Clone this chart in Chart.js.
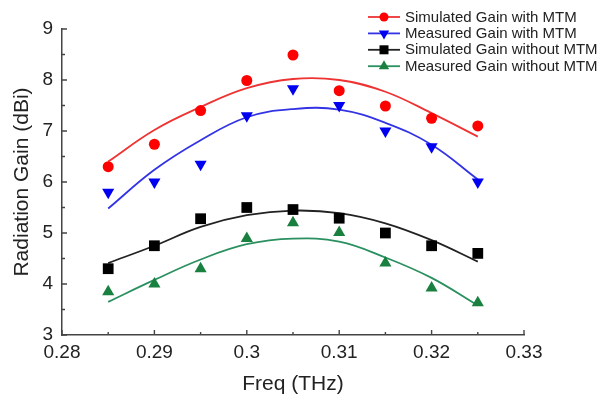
<!DOCTYPE html>
<html>
<head>
<meta charset="utf-8">
<script src="https://cdn.jsdelivr.net/npm/chart.js@4/dist/chart.umd.min.js"></script>
<style>
  html, body { margin: 0; padding: 0; background: #fff; }
  #wrap { width: 606px; height: 403px; position: relative; }
</style>
</head>
<body>
<div id="wrap"><canvas id="gainChart"></canvas></div>
<script>
// frequencies (THz)
const freq = [0.285, 0.29, 0.295, 0.3, 0.305, 0.31, 0.315, 0.32, 0.325];

// measured / simulated points (dBi)
const simWithMTM = [6.3, 6.74, 7.4, 7.99, 8.49, 7.79, 7.49, 7.25, 7.1];
const measWithMTM = [5.8, 6.0, 6.35, 7.3, 7.83, 7.5, 7.0, 6.69, 6.0];
const simWithoutMTM = [4.3, 4.75, 5.28, 5.5, 5.46, 5.29, 5.0, 4.75, 4.6];
const measWithoutMTM = [3.85, 4.0, 4.3, 4.89, 5.2, 5.01, 4.41, 3.92, 3.63];

// fitted curves
const fitSimWith = [6.4, 7.02, 7.47, 7.84, 8.02, 8.0, 7.77, 7.35, 6.89];
const fitMeasWith = [5.48, 6.24, 6.82, 7.27, 7.43, 7.42, 7.16, 6.73, 6.05];
const fitSimWithout = [4.41, 4.75, 5.12, 5.35, 5.44, 5.39, 5.19, 4.86, 4.44];
const fitMeasWithout = [3.65, 4.08, 4.48, 4.78, 4.89, 4.83, 4.52, 4.12, 3.58];

const xTicks = [0.28, 0.29, 0.3, 0.31, 0.32, 0.33];
const yTicks = [3, 4, 5, 6, 7, 8, 9];

const FONT = "'Liberation Sans', Arial, sans-serif";

function pts(ys) {
  return freq.map((f, i) => ({ x: f, y: ys[i] }));
}

const series = [
  { label: "Simulated Gain with MTM", data: simWithMTM, fit: fitSimWith, color: "#ff0000", line: "#ee3333", style: "circle", radius: 5.5, rot: 0 },
  { label: "Measured Gain with MTM", data: measWithMTM, fit: fitMeasWith, color: "#0000f0", line: "#3333e6", style: "triangle", radius: 7, rot: 180 },
  { label: "Simulated Gain without MTM", data: simWithoutMTM, fit: fitSimWithout, color: "#000000", line: "#222222", style: "rect", radius: 7.6, rot: 0 },
  { label: "Measured Gain without MTM", data: measWithoutMTM, fit: fitMeasWithout, color: "#1a8040", line: "#2a9060", style: "triangle", radius: 7, rot: 0 }
];

const datasets = [];
series.forEach(s => {
  datasets.push({
    label: s.label + " fit",
    data: pts(s.fit),
    borderColor: s.line,
    borderWidth: 1.8,
    pointRadius: 0,
    showLine: true,
    fill: false,
    tension: 0.4,
    order: 2
  });
});
series.forEach(s => {
  datasets.push({
    label: s.label,
    data: pts(s.data),
    showLine: false,
    pointStyle: s.style,
    pointRadius: s.radius,
    pointRotation: s.rot,
    pointBackgroundColor: s.color,
    pointBorderColor: s.color,
    pointBorderWidth: 0,
    order: 1
  });
});

// inward ticks, major and minor
const innerTicks = {
  id: "innerTicks",
  afterDraw(chart) {
    const { ctx, chartArea: a, scales: { x, y } } = chart;
    ctx.save();
    ctx.strokeStyle = "#444";
    ctx.lineWidth = 1.4;
    ctx.beginPath();
    for (let i = 0; i <= 10; i++) {
      const px = x.getPixelForValue(0.28 + i * 0.005);
      const len = i % 2 === 0 ? 5 : 3;
      ctx.moveTo(px, a.bottom);
      ctx.lineTo(px, a.bottom - len);
    }
    for (let i = 0; i <= 12; i++) {
      const py = y.getPixelForValue(3 + i * 0.5);
      const len = i % 2 === 0 ? 5 : 3;
      ctx.moveTo(a.left, py);
      ctx.lineTo(a.left + len, py);
    }
    ctx.stroke();
    ctx.restore();
  }
};

function marker(ctx, style, cx, cy, r, rot, color) {
  ctx.fillStyle = color;
  ctx.beginPath();
  if (style === "circle") {
    ctx.arc(cx, cy, r, 0, Math.PI * 2);
  } else if (style === "rect") {
    ctx.rect(cx - r, cy - r, 2 * r, 2 * r);
  } else {
    const d = rot === 180 ? -1 : 1;
    ctx.moveTo(cx, cy - d * r);
    ctx.lineTo(cx + r * 0.866, cy + d * r * 0.5);
    ctx.lineTo(cx - r * 0.866, cy + d * r * 0.5);
    ctx.closePath();
  }
  ctx.fill();
}

const sideLegend = {
  id: "sideLegend",
  afterDraw(chart) {
    const { ctx } = chart;
    ctx.save();
    ctx.font = "15px " + FONT;
    ctx.textBaseline = "middle";
    series.forEach((s, i) => {
      const yy = 17 + i * 16.4;
      ctx.strokeStyle = s.line;
      ctx.lineWidth = 1.8;
      ctx.beginPath();
      ctx.moveTo(368, yy);
      ctx.lineTo(400, yy);
      ctx.stroke();
      const r = s.style === "circle" ? 4.5 : (s.style === "rect" ? 4.5 : 6);
      marker(ctx, s.style, 384, yy, r, s.rot, s.color);
      ctx.fillStyle = "#222";
      ctx.fillText(s.label, 405, yy + 0.5);
    });
    ctx.restore();
  }
};

new Chart(document.getElementById("gainChart"), {
  type: "scatter",
  data: { datasets },
  options: {
    responsive: true,
    maintainAspectRatio: false,
    animation: false,
    layout: { padding: { left: 0, right: 82, top: 29, bottom: 0 } },
    plugins: {
      legend: { display: false },
      tooltip: { enabled: false }
    },
    scales: {
      x: {
        type: "linear",
        min: 0.28,
        max: 0.33,
        afterBuildTicks(scale) {
          scale.ticks = xTicks.map(v => ({ value: v }));
        },
        afterFit(scale) { scale.height = 68; },
        ticks: {
          padding: 6,
          color: "#222",
          font: { family: FONT, size: 19 },
          callback: v => String(parseFloat(v.toFixed(3)))
        },
        grid: { display: false, drawTicks: false },
        border: { display: true, color: "#444", width: 1.5 },
        title: {
          display: true,
          text: "Freq (THz)",
          color: "#222",
          font: { family: FONT, size: 21 },
          padding: { top: 0, bottom: 6 }
        }
      },
      y: {
        min: 3,
        max: 9,
        afterBuildTicks(scale) {
          scale.ticks = yTicks.map(v => ({ value: v }));
        },
        afterFit(scale) { scale.width = 62; },
        ticks: {
          padding: 9,
          color: "#222",
          font: { family: FONT, size: 19 }
        },
        grid: { display: false, drawTicks: false },
        border: { display: true, color: "#444", width: 1.5 },
        title: {
          display: true,
          text: "Radiation Gain (dBi)",
          color: "#222",
          font: { family: FONT, size: 21 },
          padding: { top: 10, bottom: 0 }
        }
      }
    }
  },
  plugins: [innerTicks, sideLegend]
});
</script>
</body>
</html>
